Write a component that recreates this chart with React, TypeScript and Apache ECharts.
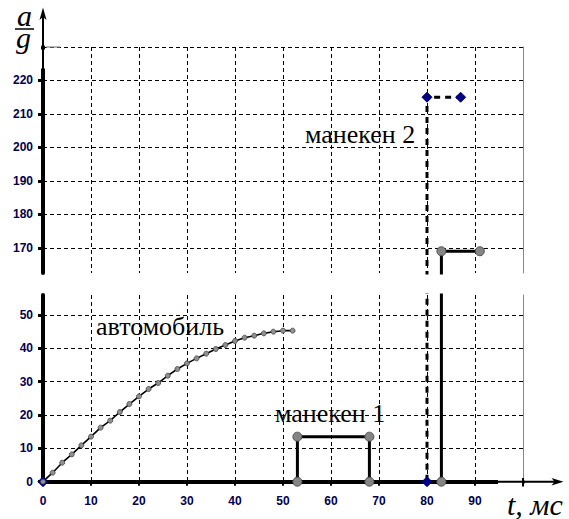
import { useEffect, useRef } from "react";
import * as echarts from "echarts";

// автомобиль: t (мс) and a/g
const carT = [0, 2, 4, 6, 8, 10, 12, 14, 16, 18, 20, 22, 24, 26, 28, 30, 32, 34, 36, 38, 40, 42, 44, 46, 48, 50, 52];
const carA = [0, 2.7, 5.7, 8.2, 10.9, 13.5, 16.2, 18.3, 20.9, 23.3, 25.6, 27.8, 29.6, 31.8, 33.8, 35.5, 37.0, 38.4, 39.8, 41.0, 42.2, 43.2, 43.8, 44.5, 45.0, 45.3, 45.3];

// манекен 1
const dummy1T = [53, 53, 68, 68];
const dummy1A = [0, 13.5, 13.5, 0];

// манекен 2 (solid)
const dummy2T = [83, 83, 91];
const dummy2A = [0, 169, 169];

// манекен 2 (dashed)
const dummy2dT = [0, 80, 80, 87];
const dummy2dA = [0, 0, 215, 215];

const seriesNames = ["автомобиль", "манекен 1", "манекен 2"];
const axisTitleY = ["a", "g"];
const axisTitleX = "t, мс";

const zip = (xs: number[], ys: number[]) => xs.map((x, i) => [x, ys[i]]);

const gridLine = { color: "#000", width: 1, type: [4, 3] as number[] };
const labelFont = {
  color: "#00004d",
  fontFamily: "Liberation Sans",
  fontWeight: "bold" as const,
  fontSize: 12,
};

function buildOption() {
  const carData: any[] = zip(carT, carA);
  const d1 = zip(dummy1T, dummy1A);
  const d2 = zip(dummy2T, dummy2A);
  const d2d = zip(dummy2dT, dummy2dA);

  const solidDummy = (xi: number, yi: number) => ({
    type: "line",
    name: seriesNames[2],
    xAxisIndex: xi,
    yAxisIndex: yi,
    data: d2,
    clip: true,
    symbol: "circle",
    symbolSize: 9,
    itemStyle: { color: "#858585", borderColor: "#505050", borderWidth: 1 },
    lineStyle: { color: "#000", width: 3 },
    silent: true,
    z: 4,
  });
  const dashedDummy = (xi: number, yi: number) => ({
    type: "line",
    name: seriesNames[2],
    xAxisIndex: xi,
    yAxisIndex: yi,
    data: d2d,
    clip: true,
    symbol: "diamond",
    symbolSize: 10,
    itemStyle: { color: "#000080", borderColor: "#000080", borderWidth: 1 },
    lineStyle: { color: "#000", width: 3, type: [6, 5] },
    silent: true,
    z: 3,
  });

  // text drawn at 24px and scaled to the wanted size; (x, y) is its top-left corner
  const textEl = (text: string, x: number, y: number, size: number, italic: boolean) => ({
    type: "text",
    x,
    y,
    scaleX: size / 24,
    scaleY: size / 24,
    style: {
      text,
      x: 0,
      y: 0,
      font: `${italic ? "italic " : ""}24px Liberation Serif`,
      fill: "#000",
    },
  });

  return {
    animation: false,
    backgroundColor: "#fff",
    grid: [
      { left: 43, right: 46, top: 47, height: 226 },
      { left: 43, right: 46, top: 295, height: 186.7 },
    ],
    xAxis: [
      {
        gridIndex: 0,
        type: "value",
        min: 0,
        max: 100,
        interval: 10,
        axisLine: { show: false },
        axisTick: { show: false },
        axisLabel: { show: false },
        splitLine: { show: true, showMinLine: false, showMaxLine: false, lineStyle: gridLine },
      },
      {
        gridIndex: 1,
        type: "value",
        min: 0,
        max: 100,
        interval: 10,
        axisLine: { show: true, lineStyle: { color: "#000", width: 4 } },
        axisTick: { show: true, length: 4, lineStyle: { color: "#000", width: 2 } },
        axisLabel: { ...labelFont, margin: 13, showMaxLabel: false },
        splitLine: { show: true, showMinLine: false, showMaxLine: false, lineStyle: gridLine },
      },
    ],
    yAxis: [
      {
        gridIndex: 0,
        type: "value",
        min: 162.5,
        max: 230,
        minInterval: 10,
        maxInterval: 10,
        axisLine: { show: true, onZero: false, lineStyle: { color: "#000", width: 4 } },
        axisTick: { show: true, length: 5, lineStyle: { color: "#000", width: 3 } },
        axisLabel: { ...labelFont, margin: 10, showMinLabel: false, showMaxLabel: false },
        splitLine: { show: true, showMinLine: false, showMaxLine: true, lineStyle: gridLine },
      },
      {
        gridIndex: 0,
        type: "value",
        position: "right",
        min: 162.5,
        max: 230,
        axisLine: { show: true, onZero: false, lineStyle: { color: "#888", width: 1 } },
        axisTick: { show: false },
        axisLabel: { show: false },
        splitLine: { show: false },
      },
      {
        gridIndex: 1,
        type: "value",
        min: 0,
        max: 56,
        interval: 10,
        axisLine: { show: true, onZero: false, lineStyle: { color: "#000", width: 4 } },
        axisTick: { show: true, length: 5, lineStyle: { color: "#000", width: 3 } },
        axisLabel: { ...labelFont, margin: 10, showMaxLabel: false },
        splitLine: { show: true, showMinLine: false, showMaxLine: false, lineStyle: gridLine },
      },
      {
        gridIndex: 1,
        type: "value",
        position: "right",
        min: 0,
        max: 56,
        axisLine: { show: true, onZero: false, lineStyle: { color: "#888", width: 1 } },
        axisTick: { show: false },
        axisLabel: { show: false },
        splitLine: { show: false },
      },
    ],
    series: [
      dashedDummy(1, 2),
      dashedDummy(0, 0),
      {
        type: "line",
        name: seriesNames[0],
        xAxisIndex: 1,
        yAxisIndex: 2,
        data: carData,
        clip: true,
        symbol: "circle",
        symbolSize: 5,
        showAllSymbol: true,
        itemStyle: { color: "#8f8f8f", borderColor: "#444", borderWidth: 0.8 },
        lineStyle: { color: "#000", width: 1.6 },
        silent: true,
        z: 5,
      },
      {
        type: "line",
        name: seriesNames[1],
        xAxisIndex: 1,
        yAxisIndex: 2,
        data: d1,
        clip: true,
        symbol: "circle",
        symbolSize: 9,
        itemStyle: { color: "#858585", borderColor: "#505050", borderWidth: 1 },
        lineStyle: { color: "#000", width: 3 },
        silent: true,
        z: 4,
      },
      solidDummy(1, 2),
      solidDummy(0, 0),
    ],
    graphic: [
      // texts first
      textEl(axisTitleY[0], 17, 0, 30, true),
      textEl(axisTitleY[1], 16, 22, 30, true),
      textEl(axisTitleX, 507, 489, 30, true),
      textEl(seriesNames[0], 96, 313, 26, false),
      textEl(seriesNames[1], 275, 400.5, 26, false),
      textEl(seriesNames[2], 305, 121.5, 26, false),
      // thin part of the y axis with arrow
      { type: "rect", z: 100, shape: { x: 40.5, y: 49.5, width: 5, height: 19 }, style: { fill: "#fff" } },
      { type: "line", z: 101, shape: { x1: 43, y1: 69, x2: 43, y2: 14 }, style: { stroke: "#000", lineWidth: 2 } },
      { type: "polygon", z: 101, shape: { points: [[43, 7.5], [39.5, 20], [43, 17], [46.5, 20]] }, style: { fill: "#000" } },
      // thin part of the x axis with arrow
      { type: "rect", z: 100, shape: { x: 498, y: 479.4, width: 26, height: 4.6 }, style: { fill: "#fff" } },
      { type: "line", z: 101, shape: { x1: 497, y1: 481.7, x2: 557, y2: 481.7 }, style: { stroke: "#000", lineWidth: 2 } },
      { type: "line", z: 101, shape: { x1: 523, y1: 478, x2: 523, y2: 486.5 }, style: { stroke: "#000", lineWidth: 2 } },
      { type: "polygon", z: 101, shape: { points: [[563.5, 481.7], [551.5, 478], [554.5, 481.7], [551.5, 485.4]] }, style: { fill: "#000" } },
      // top-left grey stub
      { type: "line", z: 101, shape: { x1: 46, y1: 47, x2: 60, y2: 47 }, style: { stroke: "#888", lineWidth: 1.2 } },
      // fraction bar of a/g
      { type: "line", z: 101, shape: { x1: 15, y1: 29, x2: 34, y2: 29 }, style: { stroke: "#000", lineWidth: 1.5 } },
    ],
  };
}

export default function App() {
  const ref = useRef<HTMLDivElement>(null);
  useEffect(() => {
    if (!ref.current) return;
    const chart = echarts.init(ref.current, null, { renderer: "svg" });
    chart.setOption(buildOption() as any);
    return () => chart.dispose();
  }, []);
  return (
    <div
      ref={ref}
      style={{ position: "fixed", left: 0, top: 0, width: 569, height: 519, background: "#fff" }}
    />
  );
}
